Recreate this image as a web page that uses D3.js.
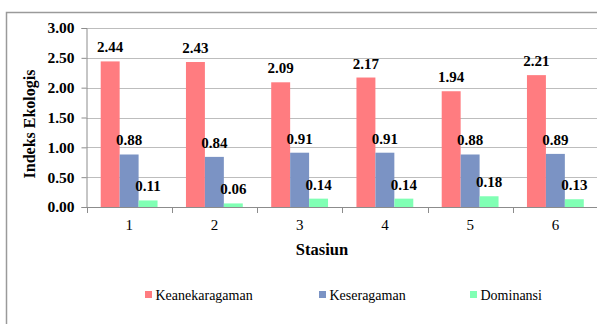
<!DOCTYPE html>
<html>
<head>
<meta charset="utf-8">
<script src="https://cdn.jsdelivr.net/npm/d3@7"></script>
<style>
  html, body { margin: 0; padding: 0; background: #fff; }
  svg { display: block; }
  svg text { font-family: "Liberation Serif", serif; fill: #000; }
</style>
</head>
<body>
<svg id="chart" width="597" height="324" font-family="Liberation Serif"></svg>
<script>
// Stations along the x axis
const stations = ["1", "2", "3", "4", "5", "6"];
// Ecological index values per station
const keanekaragaman = [2.44, 2.43, 2.09, 2.17, 1.94, 2.21];
const keseragaman = [0.88, 0.84, 0.91, 0.91, 0.88, 0.89];
const dominansi = [0.11, 0.06, 0.14, 0.14, 0.18, 0.13];
const seriesNames = ["Keanekaragaman", "Keseragaman", "Dominansi"];
const yTicks = [0, 0.5, 1.0, 1.5, 2.0, 2.5, 3.0];

const seriesValues = [keanekaragaman, keseragaman, dominansi];
const colors = ["#ff7c80", "#7b93c4", "#80ffb4"];

function draw() {
  const svg = d3.select("#chart");
  svg.selectAll("*").remove();
  const plot = { left: 86.5, right: 598, top: 28, bottom: 207 };

  // Chart area frame (only the top and left edges fall inside the view)
  svg.append("path")
    .attr("d", "M6.5,330 V12.5 H605")
    .attr("fill", "none")
    .attr("stroke", "#9a9a9a")
    .attr("stroke-width", 1.5);

  const x = d3.scaleBand().domain(stations).range([plot.left, plot.right]).paddingInner(0).paddingOuter(0);
  const bw = x.bandwidth() / 4.5;
  const gap = (x.bandwidth() - 3 * bw) / 2;
  const y = d3.scaleLinear().domain([0, 3]).range([plot.bottom, plot.top]);

  // Horizontal gridlines
  svg.append("g")
    .selectAll("line")
    .data(yTicks.filter(d => d > 0))
    .join("line")
    .attr("x1", plot.left).attr("x2", plot.right)
    .attr("y1", d => Math.round(y(d)) + 0.5).attr("y2", d => Math.round(y(d)) + 0.5)
    .attr("stroke", "#bdbdbd").attr("stroke-width", 1);

  // Y axis
  const yAxis = svg.append("g")
    .attr("transform", `translate(${plot.left},0)`)
    .call(d3.axisLeft(y).tickValues(yTicks).tickFormat(d3.format(".2f")).tickSize(5).tickPadding(7));
  yAxis.attr("font-family", "Liberation Serif");
  yAxis.select(".domain").attr("stroke", "#8c8c8c");
  yAxis.selectAll(".tick line").attr("stroke", "#8c8c8c");
  yAxis.selectAll(".tick text")
    .attr("font-size", 15.5).attr("font-weight", "bold").attr("fill", "#000");

  // X axis with tick marks at band boundaries
  const xAxis = svg.append("g").attr("transform", `translate(0,${plot.bottom})`);
  xAxis.append("line")
    .attr("x1", plot.left).attr("x2", plot.right)
    .attr("y1", 0.5).attr("y2", 0.5)
    .attr("stroke", "#8c8c8c");
  xAxis.selectAll("line.sep")
    .data(stations)
    .join("line")
    .attr("class", "sep")
    .attr("x1", d => Math.round(x(d)) + 0.5).attr("x2", d => Math.round(x(d)) + 0.5)
    .attr("y1", 0).attr("y2", 6)
    .attr("stroke", "#8c8c8c");
  xAxis.selectAll("text")
    .data(stations)
    .join("text")
    .attr("x", d => x(d) + x.bandwidth() / 2)
    .attr("y", 23)
    .attr("text-anchor", "middle")
    .attr("font-size", 15)
    .text(d => d);

  // Bars and value labels
  seriesValues.forEach((vals, si) => {
    const g = svg.append("g");
    g.selectAll("rect")
      .data(vals)
      .join("rect")
      .attr("x", (d, i) => x(stations[i]) + gap + si * bw)
      .attr("y", d => y(d))
      .attr("width", bw)
      .attr("height", d => y(0) - y(d))
      .attr("fill", colors[si]);
    g.selectAll("text")
      .data(vals)
      .join("text")
      .attr("x", (d, i) => x(stations[i]) + gap + si * bw + bw / 2)
      .attr("y", d => y(d) - 9)
      .attr("text-anchor", "middle")
      .attr("font-size", 15)
      .attr("font-weight", "bold")
      .text(d => d3.format(".2f")(d));
  });

  // Axis titles
  svg.append("text")
    .attr("transform", "translate(35,124) rotate(-90)")
    .attr("text-anchor", "middle")
    .attr("font-size", 16)
    .attr("font-weight", "bold")
    .text("Indeks Ekologis");
  svg.append("text")
    .attr("x", 322)
    .attr("y", 255)
    .attr("text-anchor", "middle")
    .attr("font-size", 16.5)
    .attr("font-weight", "bold")
    .text("Stasiun");

  // Legend
  const legendX = [145, 319, 470];
  const legend = svg.append("g");
  seriesNames.forEach((name, i) => {
    legend.append("rect")
      .attr("x", legendX[i]).attr("y", 291)
      .attr("width", 7).attr("height", 7)
      .attr("fill", colors[i]);
    legend.append("text")
      .attr("x", legendX[i] + 10.5).attr("y", 300)
      .attr("font-size", 14)
      .text(name);
  });
}

draw();
// Redraw once the serif faces are available
if (document.fonts && document.fonts.load) {
  Promise.all([
    document.fonts.load('15px "Liberation Serif"'),
    document.fonts.load('bold 15px "Liberation Serif"')
  ]).then(draw, () => {});
}
</script>
</body>
</html>
